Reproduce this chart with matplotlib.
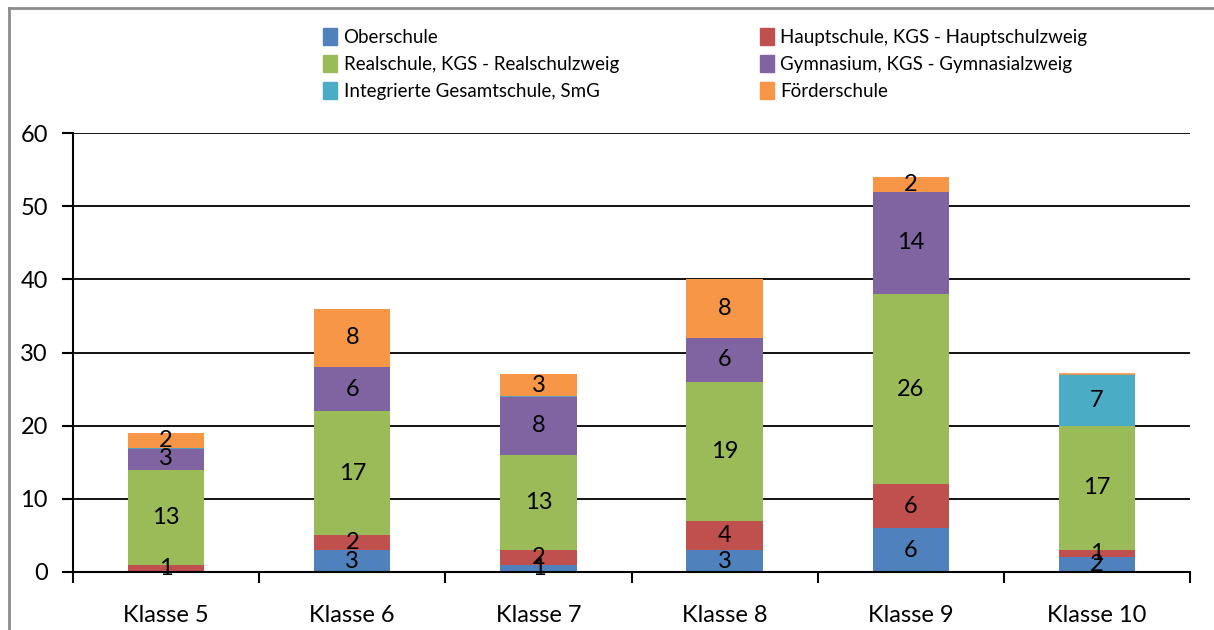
import numpy as np
import matplotlib
matplotlib.use("Agg")
import matplotlib.pyplot as plt
from matplotlib.lines import Line2D
from matplotlib.patches import Patch

plt.rcParams["font.family"] = ["Lato", "DejaVu Sans"]

classes = ["Klasse 5", "Klasse 6", "Klasse 7", "Klasse 8", "Klasse 9", "Klasse 10"]

# NaN = no entry; 0 = entry present but empty (drawn as a hairline)
oberschule = [np.nan, 3, 1, 3, 6, 2]
hauptschule = [1, 2, 2, 4, 6, 1]
realschule = [13, 17, 13, 19, 26, 17]
gymnasium = [3, 6, 8, 6, 14, np.nan]
gesamtschule = [0, np.nan, 0, np.nan, np.nan, 7]
foerderschule = [2, 8, 3, 8, 2, 0]

series = [
    ("Oberschule", oberschule, "#4F81BD"),
    ("Hauptschule, KGS - Hauptschulzweig", hauptschule, "#C0504D"),
    ("Realschule, KGS - Realschulzweig", realschule, "#9BBB59"),
    ("Gymnasium, KGS - Gymnasialzweig", gymnasium, "#8064A2"),
    ("Integrierte Gesamtschule, SmG", gesamtschule, "#4BACC6"),
    ("Förderschule", foerderschule, "#F79646"),
]

W, H = 1214, 630
fig = plt.figure(figsize=(W / 100, H / 100), dpi=100)
ax = fig.add_axes([73 / W, 1 - 572 / H, (1190 - 73) / W, (572 - 133) / H])

x = np.arange(len(classes))
bottom = np.zeros(len(classes))
for name, vals, color in series:
    v = np.array(vals, dtype=float)
    for i, val in enumerate(v):
        if np.isnan(val):
            continue
        ax.bar(x[i], val, bottom=bottom[i], width=0.41, color=color,
               edgecolor=color, linewidth=1.2 if val == 0 else 0, zorder=3)
        if val > 0:
            ax.text(x[i], bottom[i] + val / 2, f"{int(val)}", ha="center",
                    va="center", fontsize=17, color="black", zorder=4)
    bottom += np.nan_to_num(v)

ax.set_xlim(-0.5, len(classes) - 0.5)
ax.set_ylim(0, 60)
ax.set_yticks(np.arange(0, 61, 10))
ax.yaxis.grid(True, color="black", linewidth=1.3, zorder=0)
ax.set_axisbelow(True)
for s in ["top", "right"]:
    ax.spines[s].set_visible(False)
ax.spines["left"].set_linewidth(1.5)
ax.spines["bottom"].set_linewidth(1.5)
ax.spines["bottom"].set_zorder(5)

ax.set_xticks(x)
ax.set_xticklabels(classes, fontsize=17)
ax.tick_params(axis="x", length=0, pad=24)
ax.set_xticks(np.arange(-0.5, len(classes), 1), minor=True)
ax.tick_params(axis="x", which="minor", length=8, width=1.5, direction="out")
ax.tick_params(axis="y", length=8, width=1.5, direction="out", labelsize=17, pad=10)

handles = [Patch(facecolor=c, edgecolor=c) for _, _, c in series]
labels = [n for n, _, _ in series]
# row-wise ordering for a two-column legend
order = [0, 2, 4, 1, 3, 5]
fig.legend([handles[i] for i in order], [labels[i] for i in order],
           loc="upper left", bbox_to_anchor=(323 / W, 1 - 28 / H), ncol=2,
           frameon=False, fontsize=13.5, handlelength=0.75, handleheight=1.0,
           handletextpad=0.35, columnspacing=7.5, labelspacing=0.5,
           borderaxespad=0, borderpad=0)

# chart frame
fig.add_artist(Line2D([9 / W, 9 / W], [0, 1 - 8 / H], color="#8c8c8c", linewidth=2))
fig.add_artist(Line2D([9 / W, 1], [1 - 8 / H, 1 - 8 / H], color="#8c8c8c", linewidth=2))

fig.savefig("out.png", dpi=100)
